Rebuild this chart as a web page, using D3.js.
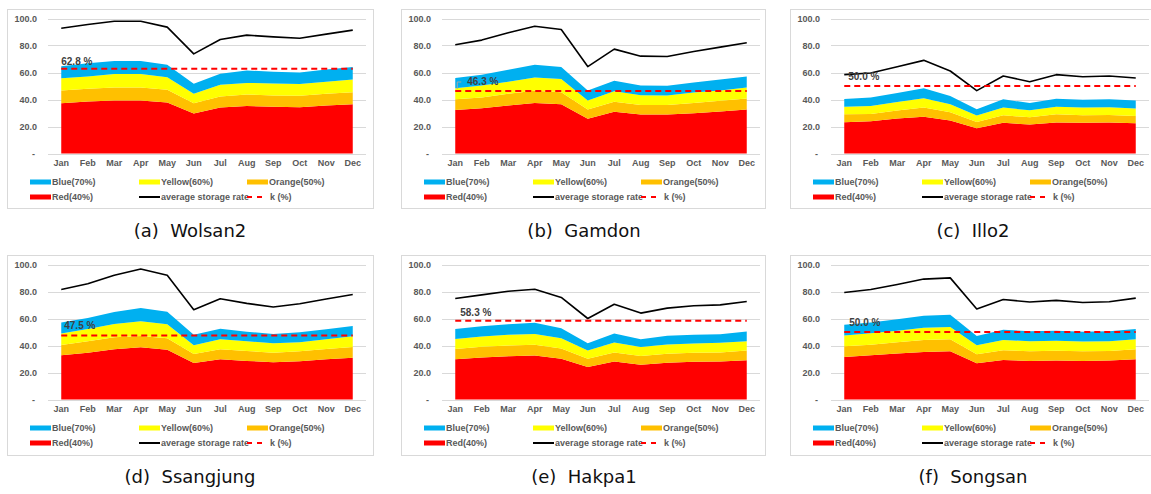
<!DOCTYPE html>
<html>
<head>
<meta charset="utf-8">
<script src="https://cdn.jsdelivr.net/npm/d3@7"></script>
<style>
  html, body { margin: 0; padding: 0; background: #fff; }
  svg { display: block; }
</style>
</head>
<body>
<svg id="chart" width="1151" height="494"></svg>
<script>
// ---------------- DATA ----------------
const months = ["Jan","Feb","Mar","Apr","May","Jun","Jul","Aug","Sep","Oct","Nov","Dec"];
const yTicks = [0, 20, 40, 60, 80, 100];
const seriesKeys = ["red", "orange", "yellow", "blue"];
const legendLabels = ["Blue(70%)", "Yellow(60%)", "Orange(50%)", "Red(40%)", "average storage rate", "k (%)"];
const captions = ["(a)  Wolsan2", "(b)  Gamdon", "(c)  Illo2", "(d)  Ssangjung", "(e)  Hakpa1", "(f)  Songsan"];
const kValues = [62.8, 46.3, 50.0, 47.5, 58.3, 50.0];

// (a) Wolsan2
const redA    = [37.3,38.5,39.3,39.3,37.8,29.6,34.1,35.1,34.6,34.3,35.6,36.5];
const orangeA = [9.4,9.4,9.6,9.6,9.4,7.7,8.1,8.6,8.4,8.4,8.6,8.9];
const yellowA = [9.1,9.1,9.9,9.9,9.3,6.9,8.7,8.6,8.9,8.7,8.9,9.4];
const blueA   = [8.9,9.9,9.8,9.8,9.2,7.4,8.1,9.2,8.6,8.6,9.1,9.2];
const avgA    = [92.8,95.5,98.0,98.0,93.6,73.8,84.4,87.7,86.4,85.4,88.4,91.4];
// (b) Gamdon
const redB    = [32.3,33.6,35.6,37.5,36.5,25.7,30.9,28.9,28.9,29.9,31.1,32.6];
const orangeB = [7.9,7.9,8.6,8.9,8.9,6.9,7.4,7.1,7.1,7.6,7.9,8.1];
const yellowB = [8.2,8.9,8.9,9.9,9.7,6.7,7.9,7.2,7.0,7.7,7.7,8.2];
const blueB   = [7.6,7.9,8.9,9.4,8.9,7.4,7.6,7.2,7.1,7.4,8.1,8.1];
const avgB    = [80.5,84.0,89.4,94.3,91.9,64.4,77.3,72.1,71.9,75.6,78.8,82.0];
// (c) Illo2
const redC    = [23.2,23.9,25.9,27.3,24.4,18.7,22.7,21.4,22.9,22.7,22.9,22.4];
const orangeC = [5.9,5.4,5.9,6.7,6.1,4.7,5.6,5.4,6.2,5.6,5.7,5.4];
const yellowC = [5.6,5.9,6.4,6.9,6.0,4.7,5.7,5.2,5.6,5.7,5.6,5.5];
const blueC   = [5.7,6.2,6.6,7.4,6.1,4.7,6.1,5.4,5.9,5.9,5.9,5.9];
const avgC    = [58.4,59.6,64.3,69.0,61.1,46.6,57.4,53.2,58.4,56.9,57.4,55.9];
// (d) Ssangjung
const redD    = [32.8,34.7,37.2,38.7,36.9,27.1,29.8,28.6,27.6,28.3,29.8,31.0];
const orangeD = [7.6,8.4,8.9,8.3,8.4,6.6,7.4,7.4,7.1,7.4,7.6,7.9];
const yellowD = [8.4,9.1,9.8,10.9,10.4,6.5,7.4,7.1,6.9,6.7,7.2,7.9];
const blueD   = [8.3,8.1,8.9,9.8,9.3,7.8,7.9,7.1,6.9,7.4,7.4,7.6];
const avgD    = [81.5,85.7,92.1,96.6,92.1,66.5,74.6,71.2,68.5,70.9,74.4,77.8];
// (e) Hakpa1
const redE    = [29.9,31.1,32.1,32.6,30.1,24.0,28.1,25.7,27.2,27.9,28.1,29.1];
const orangeE = [7.6,7.9,7.9,7.9,7.7,6.1,6.7,6.6,6.6,6.7,6.7,7.2];
const yellowE = [7.4,7.7,7.9,8.1,7.6,6.2,7.4,6.5,6.9,6.9,7.2,6.9];
const blueE   = [7.4,7.6,7.9,8.2,7.4,5.4,6.7,5.9,6.5,6.4,6.4,7.2];
const avgE    = [74.8,77.5,80.2,81.7,75.6,60.0,70.6,64.0,67.7,69.4,70.1,72.6];
// (f) Songsan
const redF    = [31.5,32.8,34.0,35.2,35.7,26.8,29.3,28.6,28.8,28.6,28.8,29.8];
const orangeF = [7.9,7.8,8.4,8.9,8.9,6.7,7.2,7.1,7.4,7.1,7.2,7.4];
const yellowF = [8.1,8.4,8.6,9.1,9.1,6.6,7.6,7.4,7.4,7.2,7.1,7.4];
const blueF   = [7.9,8.1,8.4,8.9,9.1,6.9,7.6,7.4,7.4,7.3,7.4,7.6];
const avgF    = [79.3,81.5,85.2,89.2,90.1,67.0,74.1,72.2,73.4,71.9,72.4,75.1];

// ---------------- LAYOUT / STYLE ----------------
const colors = { blue: "#00B0F0", yellow: "#FFFF00", orange: "#FFC000", red: "#FF0000" };
const frames = [
  { fx: 7,   fy: 9,   fw: 366, fh: 199 },
  { fx: 401, fy: 9,   fw: 364, fh: 199 },
  { fx: 790, fy: 9,   fw: 361, fh: 199 },
  { fx: 7,   fy: 255, fw: 366, fh: 200 },
  { fx: 401, fy: 255, fw: 364, fh: 200 },
  { fx: 790, fy: 255, fw: 361, fh: 200 }
];
const kLabelDx = [0, 12, 4, 3, 5, 5];
const kLabelDy = [-4, -6, -6, -6, -5, -6];

const panelSeries = [
  { red: redA, orange: orangeA, yellow: yellowA, blue: blueA, avg: avgA },
  { red: redB, orange: orangeB, yellow: yellowB, blue: blueB, avg: avgB },
  { red: redC, orange: orangeC, yellow: yellowC, blue: blueC, avg: avgC },
  { red: redD, orange: orangeD, yellow: yellowD, blue: blueD, avg: avgD },
  { red: redE, orange: orangeE, yellow: yellowE, blue: blueE, avg: avgE },
  { red: redF, orange: orangeF, yellow: yellowF, blue: blueF, avg: avgF }
];

const svg = d3.select("#chart");
svg.append("rect").attr("width", 1151).attr("height", 494).attr("fill", "#fff");

const labelFont = "'Liberation Sans', Arial, sans-serif";
const gray = "#595959";

panelSeries.forEach((ps, i) => {
  const f = frames[i];
  const g = svg.append("g");

  // frame
  g.append("rect")
    .attr("x", f.fx + 0.5).attr("y", f.fy + 0.5)
    .attr("width", f.fw).attr("height", f.fh)
    .attr("fill", "#fff").attr("stroke", "#D9D9D9").attr("stroke-width", 1);

  const x = d3.scaleBand().domain(months).range([f.fx + 41, f.fx + 359]).padding(0);
  const xc = m => x(m) + x.bandwidth() / 2;
  const y = d3.scaleLinear().domain([0, 100]).range([f.fy + 144.5, f.fy + 9.5]);

  // gridlines
  g.append("g").selectAll("line").data(yTicks).join("line")
    .attr("x1", f.fx + 41).attr("x2", f.fx + 359)
    .attr("y1", d => Math.round(y(d)) + 0.5).attr("y2", d => Math.round(y(d)) + 0.5)
    .attr("stroke", "#D9D9D9").attr("stroke-width", 1);

  // y axis labels
  const yAxis = d3.axisLeft(y).tickValues(yTicks).tickSize(0).tickPadding(0)
    .tickFormat(d => d === 0 ? "-" : d.toFixed(1));
  const ya = g.append("g").attr("transform", `translate(${f.fx + 30},0)`).call(yAxis);
  ya.select(".domain").remove();
  ya.selectAll("text").attr("font-family", labelFont).attr("font-weight", "bold")
    .attr("font-size", 9).attr("fill", gray)
    .attr("dx", d => d === 0 ? -2 : 0);

  // x axis labels
  const xAxis = d3.axisBottom(x).tickSize(0).tickPadding(0);
  const xa = g.append("g").attr("transform", `translate(0,${f.fy + 151})`).call(xAxis);
  xa.select(".domain").remove();
  xa.selectAll("text").attr("font-family", labelFont).attr("font-weight", "bold")
    .attr("font-size", 9).attr("fill", gray);

  // stacked areas
  const rows = months.map((m, j) => ({
    month: m, red: ps.red[j], orange: ps.orange[j], yellow: ps.yellow[j], blue: ps.blue[j]
  }));
  const stacked = d3.stack().keys(seriesKeys)(rows);
  const area = d3.area()
    .x(d => xc(d.data.month))
    .y0(d => y(d[0]))
    .y1(d => y(d[1]));
  g.append("g").selectAll("path").data(stacked).join("path")
    .attr("d", area)
    .attr("fill", d => colors[d.key]);

  // average storage rate line
  const line = d3.line().x((d, j) => xc(months[j])).y(d => y(d));
  g.append("path").datum(ps.avg).attr("d", line)
    .attr("fill", "none").attr("stroke", "#000").attr("stroke-width", 1.6)
    .attr("stroke-linejoin", "round");

  // k dashed line
  const k = kValues[i];
  g.append("line")
    .attr("x1", xc(months[0])).attr("x2", xc(months[months.length - 1]))
    .attr("y1", y(k)).attr("y2", y(k))
    .attr("stroke", "#FF0000").attr("stroke-width", 2)
    .attr("stroke-dasharray", "6,4");

  // k label
  g.append("text")
    .attr("x", xc(months[0]) + kLabelDx[i]).attr("y", y(k) + kLabelDy[i])
    .attr("font-family", labelFont).attr("font-weight", "bold")
    .attr("font-size", 10).attr("fill", "#404040")
    .text(k.toFixed(1) + " %");
  if (i === 1) {
    g.append("path")
      .attr("d", `M${xc(months[0]) + 2},${y(k) - 2}V${y(k) - 9}H${xc(months[0]) + 6}`)
      .attr("fill", "none").attr("stroke", "#A6A6A6").attr("stroke-width", 1);
  }

  // legend
  const lx = [f.fx + 23, f.fx + 132, f.fx + 240];
  const ly1 = f.fy + 173, ly2 = f.fy + 188;
  const legendItems = [
    { type: "rect", color: colors.blue, label: legendLabels[0], x: lx[0], y: ly1 },
    { type: "rect", color: colors.yellow, label: legendLabels[1], x: lx[1], y: ly1 },
    { type: "rect", color: colors.orange, label: legendLabels[2], x: lx[2], y: ly1 },
    { type: "rect", color: colors.red, label: legendLabels[3], x: lx[0], y: ly2 },
    { type: "line", color: "#000", label: legendLabels[4], x: lx[1], y: ly2 },
    { type: "dash", color: "#FF0000", label: legendLabels[5], x: lx[2], y: ly2 }
  ];
  legendItems.forEach(it => {
    if (it.type === "rect") {
      g.append("rect").attr("x", it.x).attr("y", it.y - 2.5).attr("width", 21).attr("height", 5)
        .attr("fill", it.color);
    } else if (it.type === "line") {
      g.append("line").attr("x1", it.x).attr("x2", it.x + 21).attr("y1", it.y).attr("y2", it.y)
        .attr("stroke", it.color).attr("stroke-width", 2);
    } else {
      g.append("line").attr("x1", it.x).attr("x2", it.x + 19).attr("y1", it.y).attr("y2", it.y)
        .attr("stroke", it.color).attr("stroke-width", 2).attr("stroke-dasharray", "5,5");
    }
    g.append("text").attr("x", it.x + (it.type === "dash" ? 23 : 22)).attr("y", it.y + 3.2)
      .attr("font-family", labelFont).attr("font-weight", "bold")
      .attr("font-size", 9).attr("fill", gray)
      .text(it.label);
  });

  // caption
  svg.append("text")
    .attr("x", f.fx + 183).attr("y", f.fy + 228)
    .attr("text-anchor", "middle")
    .attr("font-family", "'DejaVu Sans', sans-serif")
    .attr("font-size", 18).attr("fill", "#111")
    .style("white-space", "pre")
    .text(captions[i]);
});
</script>
</body>
</html>
